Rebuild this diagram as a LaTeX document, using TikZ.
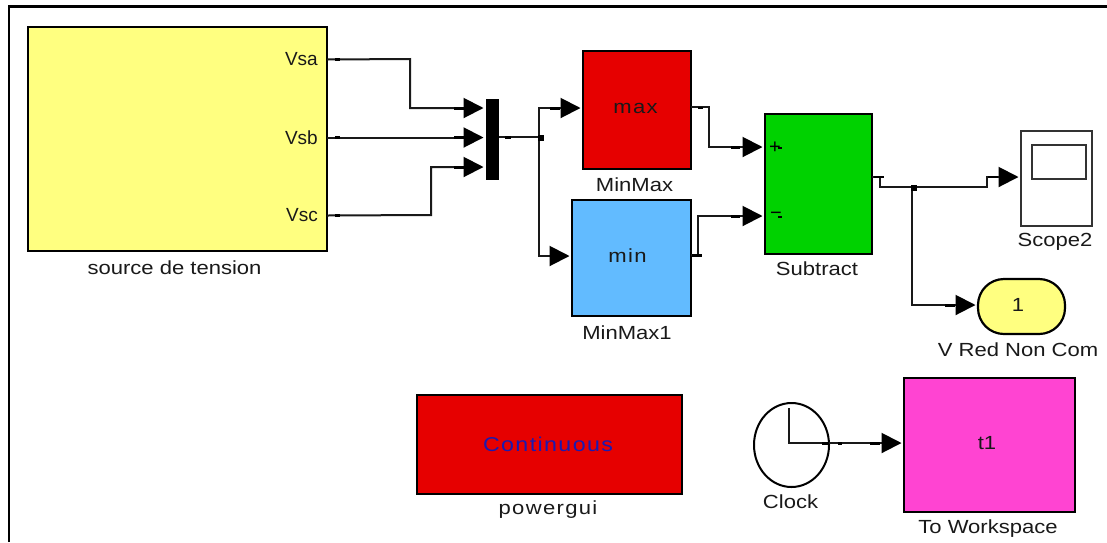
\documentclass[tikz,border=0pt]{standalone}
\usepackage{fontspec}
\setmainfont{Liberation Sans}
\newfontfamily\widefont[FakeStretch=1.16]{Liberation Sans}
\newfontfamily\widerfont[FakeStretch=1.16,LetterSpace=7]{Liberation Sans}
\usetikzlibrary{arrows.meta,shapes.geometric}
\definecolor{srcyellow}{HTML}{FFFF80}
\definecolor{maxred}{HTML}{E60000}
\definecolor{minblue}{HTML}{62BBFF}
\definecolor{subgreen}{HTML}{00D200}
\definecolor{wsmagenta}{HTML}{FF44D2}
\definecolor{contblue}{HTML}{1A1AB0}
\tikzset{
  x=1pt,y=-1pt,
  block/.style={draw=black,line width=2.2pt,outer sep=0pt,inner sep=0pt},
  wire/.style={draw=black!90,line width=2pt,-{Triangle[length=20pt,width=20pt,fill=black,color=black]},shorten >=2.5pt},
  plainwire/.style={draw=black!90,line width=2pt},
  lbl/.style={inner sep=0pt,text=black!90,font=\widefont\fontsize{19}{22}\selectfont},
  spaced/.style={inner sep=0pt,text=black!90,font=\widerfont\fontsize{19}{22}\selectfont},
  portlbl/.style={inner sep=0pt,text=black!90,font=\fontsize{19}{22}\selectfont},
  dot/.style={fill=black,inner sep=0pt,minimum size=6pt,outer sep=0pt},
  porttick/.style={draw=black,line width=2.6pt},
}
\begin{document}
\begin{tikzpicture}
\useasboundingbox (0,0) rectangle (1107,542);
% frame
\draw[black,line width=2.4pt] (9,542) -- (9,6.5) -- (1107,6.5);
% blocks
\node[block,fill=srcyellow,minimum width=299pt,minimum height=224pt] (src) at (177.5,139) {};
\node[lbl] (srclbl) at (174.5,268) {source de tension};
\node[portlbl,anchor=east] (vsa) at (318,59.5) {Vsa};
\node[portlbl,anchor=east] (vsb) at (318,137.5) {Vsb};
\node[portlbl,anchor=east] (vsc) at (318,215.5) {Vsc};
\node[fill=black,minimum width=13pt,minimum height=81pt,inner sep=0pt,outer sep=0pt] (mux) at (492.5,139.5) {};
\node[block,fill=maxred,minimum width=108pt,minimum height=118pt] (max) at (637,110) {};
\node[spaced] (maxt) at (635.5,108.5) {max};
\node[lbl] (maxlbl) at (634.5,185) {MinMax};
\node[block,fill=minblue,minimum width=119pt,minimum height=116pt] (min) at (631.5,258) {};
\node[spaced] (mint) at (627.5,256) {min};
\node[lbl] (minlbl) at (627,332.5) {MinMax1};
\node[block,fill=subgreen,minimum width=107pt,minimum height=140pt] (sub) at (818.5,184) {};
\node[lbl] (sublbl) at (817,269) {Subtract};
\node[inner sep=0pt,font=\fontsize{20}{20}\selectfont] (plus) at (775,148) {+};
\node[inner sep=0pt,font=\fontsize{20}{20}\selectfont] (minus) at (776,216) {−};
\node[block,fill=white,draw=black!80,minimum width=71pt,minimum height=95pt] (scope) at (1056.5,178.5) {};
\node[block,fill=white,draw=black!80,minimum width=54pt,minimum height=34pt] (screen) at (1059,162) {};
\node[lbl] (scopelbl) at (1055,242) {Scope2};
\node[block,fill=srcyellow,minimum width=87pt,minimum height=55pt,rounded corners=26pt] (out) at (1021.5,306.5) {};
\node[lbl] (outt) at (1018,305) {1};
\node[lbl] (outlbl) at (1018,350) {V Red Non Com};
\node[block,fill=maxred,minimum width=265pt,minimum height=99pt] (pg) at (549.5,444.5) {};
\node[spaced,text=contblue,font=\widerfont\fontsize{20}{22}\selectfont] (pgt) at (548,444) {Continuous};
\node[spaced] (pglbl) at (548,510) {powergui};
\node[block,draw=black,fill=white,ellipse,minimum width=75pt,minimum height=84pt,line width=2pt] (clock) at (791.5,445) {};
\node[lbl] (clocklbl) at (790.5,502) {Clock};
\node[block,fill=wsmagenta,minimum width=171pt,minimum height=134pt] (ws) at (989.5,445) {};
\node[lbl] (wst) at (987,443) {t1};
\node[lbl] (wslbl) at (988,529) {To Workspace};
% named points
\coordinate (j1) at (539,137);
\coordinate (j2) at (912,187);
\coordinate (hub) at (789,443);
\coordinate (hand) at (789,408);
% connectors
\draw[wire] (src.east |- vsa) -- (410,59) -- (410,108) -- (mux.west |- 0,108);
\draw[wire] (src.east |- vsb) -- (mux.west |- vsb);
\draw[wire] (src.east |- vsc) -- (431,215) -- (431,167) -- (mux.west |- 0,167);
\draw[plainwire] (mux.east |- j1) -- (j1);
\draw[wire] (j1) -- (539,108) -- (max.west |- 0,108);
\draw[wire] (j1) -- (539,256) -- (min.west |- 0,256);
\node[dot] (jd1) at (541,138) {};
\draw[wire] (max.east |- 0,107) -- (709,107) -- (709,147) -- (sub.west |- 0,147);
\draw[wire] (min.east |- 0,255) -- (698,255) -- (698,216) -- (sub.west |- 0,216);
\draw[plainwire] (sub.east |- 0,177) -- (880,177) -- (880,187) -- (j2);
\draw[wire] (j2) -- (987,187) -- (987,177) -- (scope.west |- 0,177);
\draw[wire] (j2) -- (912,305) -- (out.west |- 0,305);
\node[dot] (jd2) at (914,188) {};
\draw[plainwire] (hand) -- (hub) -- (clock.east |- hub);
\draw[wire] (clock.east |- hub) -- (ws.west |- hub);
% small port marks on the wires
\foreach \ax/\ay/\bx in {335/59.6/340, 335/137.6/340, 335/215.6/340,
  454/108.6/464, 454/137.6/464, 454/167.6/464, 505/137.6/511,
  550/108.6/560, 556/256.6/560, 698/108/703, 731/147.6/740, 731/216.6/740,
  692/255.6/702, 874/177/884, 988/177/998, 945/305.6/955,
  822/443.6/829, 838/443.6/842, 870/443.6/880, 778/148/782, 778/217/782}
  \draw[porttick] (\ax,\ay) -- (\bx,\ay);
\end{tikzpicture}
\end{document}
